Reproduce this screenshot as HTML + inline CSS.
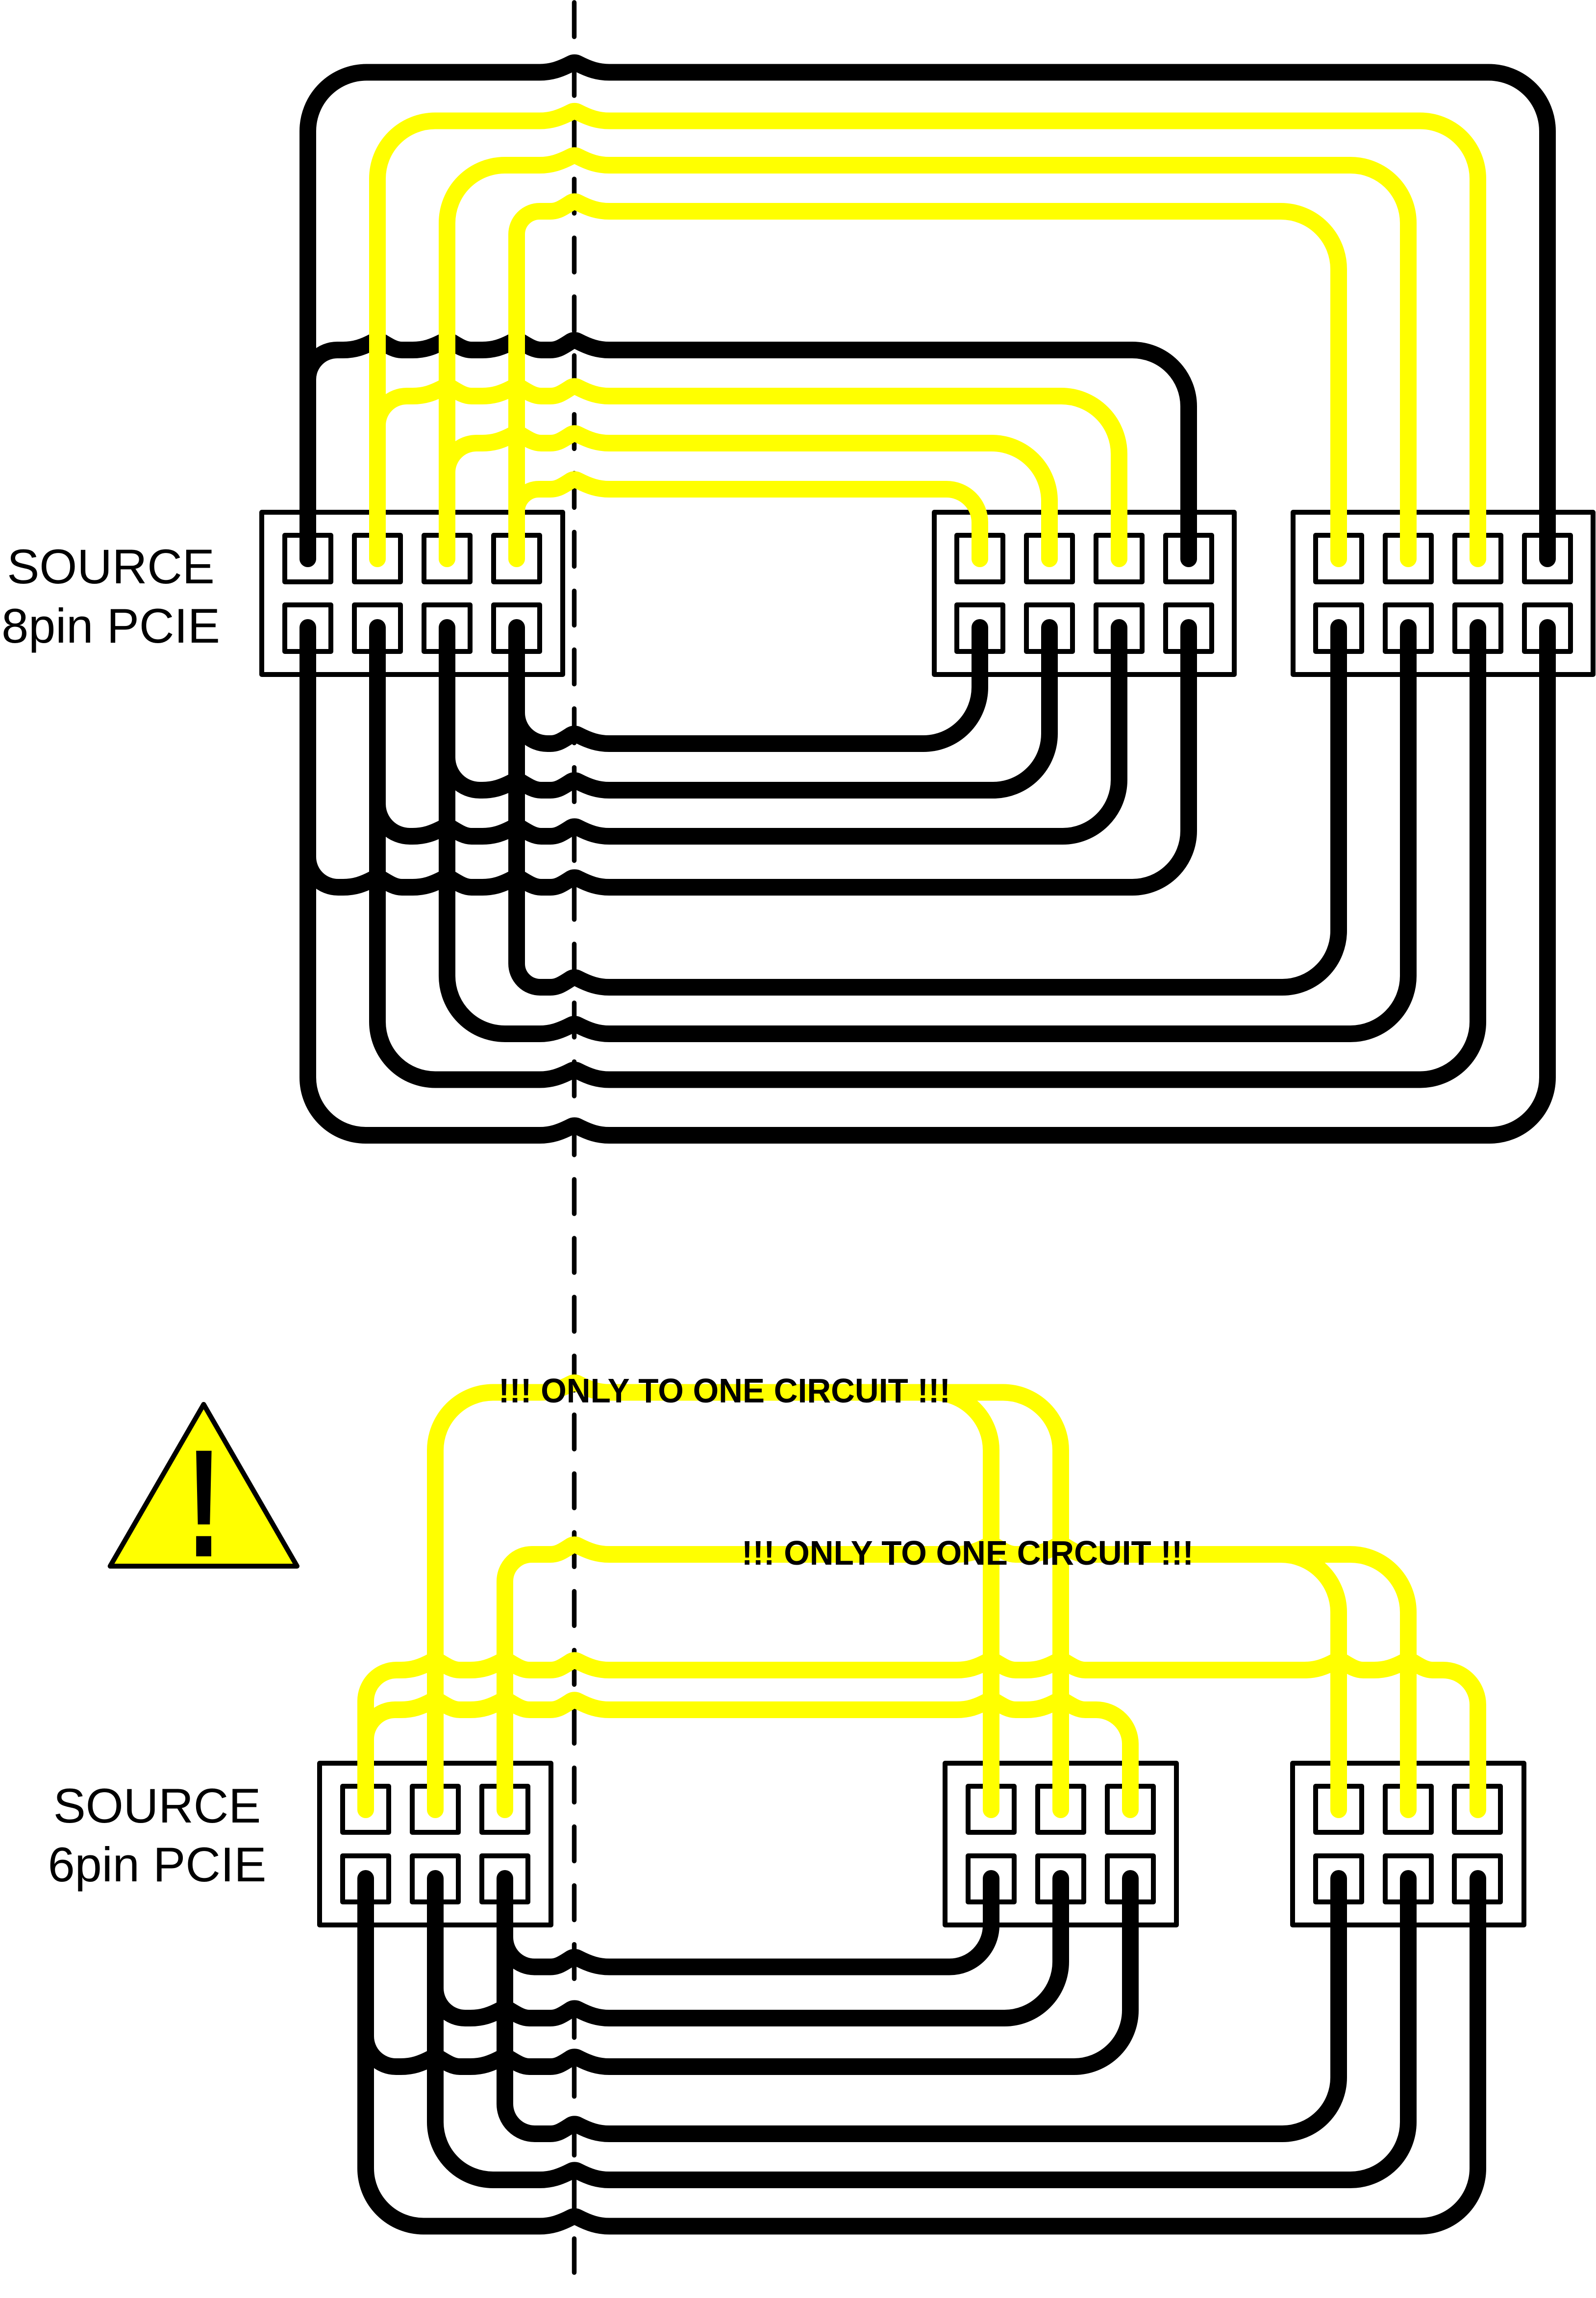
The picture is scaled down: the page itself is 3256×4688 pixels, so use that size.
<!DOCTYPE html>
<html><head><meta charset="utf-8"><style>html,body{margin:0;padding:0;background:#fff}svg{display:block}</style></head>
<body>
<svg xmlns="http://www.w3.org/2000/svg" width="3256" height="4688" viewBox="0 0 3256 4688">
<rect width="3256" height="4688" fill="#fff"/>
<path d="M1171.5 5V4636" fill="none" stroke="#000" stroke-width="9.5" stroke-linecap="round" stroke-dasharray="70 50.05"/>
<g fill="none" stroke="#000" stroke-width="10" stroke-linejoin="round">
<rect x="534" y="1045" width="614" height="331"/>
<rect x="1906" y="1045" width="612" height="331"/>
<rect x="2638" y="1045" width="612" height="331"/>
<rect x="581" y="1092" width="94" height="95"/><rect x="723" y="1092" width="94" height="95"/><rect x="865" y="1092" width="94" height="95"/><rect x="1007" y="1092" width="94" height="95"/>
<rect x="581" y="1234" width="94" height="95"/><rect x="723" y="1234" width="94" height="95"/><rect x="865" y="1234" width="94" height="95"/><rect x="1007" y="1234" width="94" height="95"/>
<rect x="1952" y="1092" width="94" height="95"/><rect x="2094" y="1092" width="94" height="95"/><rect x="2236" y="1092" width="94" height="95"/><rect x="2378" y="1092" width="94" height="95"/>
<rect x="1952" y="1234" width="94" height="95"/><rect x="2094" y="1234" width="94" height="95"/><rect x="2236" y="1234" width="94" height="95"/><rect x="2378" y="1234" width="94" height="95"/>
<rect x="2684" y="1092" width="94" height="95"/><rect x="2826" y="1092" width="94" height="95"/><rect x="2968" y="1092" width="94" height="95"/><rect x="3110" y="1092" width="94" height="95"/>
<rect x="2684" y="1234" width="94" height="95"/><rect x="2826" y="1234" width="94" height="95"/><rect x="2968" y="1234" width="94" height="95"/><rect x="3110" y="1234" width="94" height="95"/>
<rect x="652" y="3597" width="472" height="330"/>
<rect x="1928" y="3597" width="472" height="330"/>
<rect x="2637" y="3597" width="472" height="330"/>
<rect x="699" y="3644" width="94" height="94"/><rect x="841" y="3644" width="94" height="94"/><rect x="983" y="3644" width="94" height="94"/>
<rect x="699" y="3786" width="94" height="94"/><rect x="841" y="3786" width="94" height="94"/><rect x="983" y="3786" width="94" height="94"/>
<rect x="1975" y="3644" width="94" height="94"/><rect x="2117" y="3644" width="94" height="94"/><rect x="2259" y="3644" width="94" height="94"/>
<rect x="1975" y="3786" width="94" height="94"/><rect x="2117" y="3786" width="94" height="94"/><rect x="2259" y="3786" width="94" height="94"/>
<rect x="2684" y="3644" width="94" height="94"/><rect x="2826" y="3644" width="94" height="94"/><rect x="2967" y="3644" width="94" height="94"/>
<rect x="2684" y="3786" width="94" height="94"/><rect x="2826" y="3786" width="94" height="94"/><rect x="2967" y="3786" width="94" height="94"/>
</g>
<g fill="none" stroke="#000" stroke-width="34" stroke-linecap="round" stroke-linejoin="round">
<path d="M628 1140V267.5A120 120 0 0 1 748 147.5H1101c23,0 41,-6 64,-17.8a14,14 0 0 1 14,0c23,11.8 41,17.8 64,17.8H3037A120 120 0 0 1 3157 267.5V1140"/>
<path d="M628 774A60 60 0 0 1 688 714H700c23,0 41,-6 63,-17.8a14,14 0 0 1 14,0c15,9 28,17.8 43,17.8H842c23,0 41,-6 63,-17.8a14,14 0 0 1 14,0c15,9 28,17.8 43,17.8H984c23,0 41,-6 63,-17.8a14,14 0 0 1 14,0c15,9 28,17.8 43,17.8H1123c14,0 24,-6 42,-17.8a14,14 0 0 1 14,0c23,11.8 41,17.8 64,17.8H2310A115 115 0 0 1 2425 829V1140"/>
<path d="M628 1280V2198A118 118 0 0 0 746 2316H1101c23,0 41,-6 64,-17.8a14,14 0 0 1 14,0c23,11.8 41,17.8 64,17.8H3039A118 118 0 0 0 3157 2198V1280"/>
<path d="M770 1280V2084.5A118 118 0 0 0 888 2202.5H1101c23,0 41,-6 64,-17.8a14,14 0 0 1 14,0c23,11.8 41,17.8 64,17.8H2897A118 118 0 0 0 3015 2084.5V1280"/>
<path d="M912 1280V1991A118 118 0 0 0 1030 2109H1101c23,0 41,-6 64,-17.8a14,14 0 0 1 14,0c23,11.8 41,17.8 64,17.8H2755A118 118 0 0 0 2873 1991V1280"/>
<path d="M1054 1280V1966A48 48 0 0 0 1102 2014H1123c14,0 24,-6 42,-17.8a14,14 0 0 1 14,0c23,11.8 41,17.8 64,17.8H2616A115 115 0 0 0 2731 1899V1280"/>
<path d="M1054 1454A63 63 0 0 0 1117 1517H1123c14,0 24,-6 42,-17.8a14,14 0 0 1 14,0c23,11.8 41,17.8 64,17.8H1884A115 115 0 0 0 1999 1402V1280"/>
<path d="M912 1545A67 67 0 0 0 979 1612H984c23,0 41,-6 63,-17.8a14,14 0 0 1 14,0c15,9 28,17.8 43,17.8H1123c14,0 24,-6 42,-17.8a14,14 0 0 1 14,0c23,11.8 41,17.8 64,17.8H2026A115 115 0 0 0 2141 1497V1280"/>
<path d="M770 1640A66 66 0 0 0 836 1706H842c23,0 41,-6 63,-17.8a14,14 0 0 1 14,0c15,9 28,17.8 43,17.8H984c23,0 41,-6 63,-17.8a14,14 0 0 1 14,0c15,9 28,17.8 43,17.8H1123c14,0 24,-6 42,-17.8a14,14 0 0 1 14,0c23,11.8 41,17.8 64,17.8H2168A115 115 0 0 0 2283 1591V1280"/>
<path d="M628 1748A62 62 0 0 0 690 1810H700c23,0 41,-6 63,-17.8a14,14 0 0 1 14,0c15,9 28,17.8 43,17.8H842c23,0 41,-6 63,-17.8a14,14 0 0 1 14,0c15,9 28,17.8 43,17.8H984c23,0 41,-6 63,-17.8a14,14 0 0 1 14,0c15,9 28,17.8 43,17.8H1123c14,0 24,-6 42,-17.8a14,14 0 0 1 14,0c23,11.8 41,17.8 64,17.8H2310A115 115 0 0 0 2425 1695V1280"/>
<path d="M746 3832V4423.5A118 118 0 0 0 864 4541.5H1101c23,0 41,-6 64,-17.8a14,14 0 0 1 14,0c23,11.8 41,17.8 64,17.8H2897A118 118 0 0 0 3015 4423.5V3832"/>
<path d="M888 3832V4329A118 118 0 0 0 1006 4447H1101c23,0 41,-6 64,-17.8a14,14 0 0 1 14,0c23,11.8 41,17.8 64,17.8H2755A118 118 0 0 0 2873 4329V3832"/>
<path d="M1030 3832V4292A61 61 0 0 0 1091 4353H1123c14,0 24,-6 42,-17.8a14,14 0 0 1 14,0c23,11.8 41,17.8 64,17.8H2616A115 115 0 0 0 2731 4238V3832"/>
<path d="M1030 3952A60.5 60.5 0 0 0 1090.5 4012.5H1123c14,0 24,-6 42,-17.8a14,14 0 0 1 14,0c23,11.8 41,17.8 64,17.8H1937A85 85 0 0 0 2022 3927.5V3832"/>
<path d="M888 4056A61 61 0 0 0 949 4117H960c23,0 41,-6 63,-17.8a14,14 0 0 1 14,0c15,9 28,17.8 43,17.8H1123c14,0 24,-6 42,-17.8a14,14 0 0 1 14,0c23,11.8 41,17.8 64,17.8H2049A115 115 0 0 0 2164 4002V3832"/>
<path d="M746 4154A62 62 0 0 0 808 4216H818c23,0 41,-6 63,-17.8a14,14 0 0 1 14,0c15,9 28,17.8 43,17.8H960c23,0 41,-6 63,-17.8a14,14 0 0 1 14,0c15,9 28,17.8 43,17.8H1123c14,0 24,-6 42,-17.8a14,14 0 0 1 14,0c23,11.8 41,17.8 64,17.8H2191A115 115 0 0 0 2306 4101V3832"/>
</g>
<g fill="none" stroke="#ffff00" stroke-width="34" stroke-linecap="round" stroke-linejoin="round">
<path d="M770 1140V364.5A118 118 0 0 1 888 246.5H1101c23,0 41,-6 64,-17.8a14,14 0 0 1 14,0c23,11.8 41,17.8 64,17.8H2897A118 118 0 0 1 3015 364.5V1140"/>
<path d="M912 1140V455A118 118 0 0 1 1030 337H1101c23,0 41,-6 64,-17.8a14,14 0 0 1 14,0c23,11.8 41,17.8 64,17.8H2755A118 118 0 0 1 2873 455V1140"/>
<path d="M1054 1140V478A47 47 0 0 1 1101 431H1123c14,0 24,-6 42,-17.8a14,14 0 0 1 14,0c23,11.8 41,17.8 64,17.8H2613A118 118 0 0 1 2731 549V1140"/>
<path d="M770 868A60 60 0 0 1 830 808H842c23,0 41,-6 63,-17.8a14,14 0 0 1 14,0c15,9 28,17.8 43,17.8H984c23,0 41,-6 63,-17.8a14,14 0 0 1 14,0c15,9 28,17.8 43,17.8H1123c14,0 24,-6 42,-17.8a14,14 0 0 1 14,0c23,11.8 41,17.8 64,17.8H2165A118 118 0 0 1 2283 926V1140"/>
<path d="M912 964A60 60 0 0 1 972 904H984c23,0 41,-6 63,-17.8a14,14 0 0 1 14,0c15,9 28,17.8 43,17.8H1123c14,0 24,-6 42,-17.8a14,14 0 0 1 14,0c23,11.8 41,17.8 64,17.8H2023A118 118 0 0 1 2141 1022V1140"/>
<path d="M1054 1043A45 45 0 0 1 1099 998H1123c14,0 24,-6 42,-17.8a14,14 0 0 1 14,0c23,11.8 41,17.8 64,17.8H1931A68 68 0 0 1 1999 1066V1140"/>
<path d="M746 3692V3470A63 63 0 0 1 809 3407H818c23,0 41,-6 63,-17.8a14,14 0 0 1 14,0c15,9 28,17.8 43,17.8H960c23,0 41,-6 63,-17.8a14,14 0 0 1 14,0c15,9 28,17.8 43,17.8H1123c14,0 24,-6 42,-17.8a14,14 0 0 1 14,0c23,11.8 41,17.8 64,17.8H1952c23,0 41,-6 63,-17.8a14,14 0 0 1 14,0c15,9 28,17.8 43,17.8H2094c23,0 41,-6 63,-17.8a14,14 0 0 1 14,0c15,9 28,17.8 43,17.8H2661c23,0 41,-6 63,-17.8a14,14 0 0 1 14,0c15,9 28,17.8 43,17.8H2803c23,0 41,-6 63,-17.8a14,14 0 0 1 14,0c15,9 28,17.8 43,17.8H2944A71 71 0 0 1 3015 3478V3692"/>
<path d="M746 3548A60 60 0 0 1 806 3488H818c23,0 41,-6 63,-17.8a14,14 0 0 1 14,0c15,9 28,17.8 43,17.8H960c23,0 41,-6 63,-17.8a14,14 0 0 1 14,0c15,9 28,17.8 43,17.8H1123c14,0 24,-6 42,-17.8a14,14 0 0 1 14,0c23,11.8 41,17.8 64,17.8H1952c23,0 41,-6 63,-17.8a14,14 0 0 1 14,0c15,9 28,17.8 43,17.8H2094c23,0 41,-6 63,-17.8a14,14 0 0 1 14,0c15,9 28,17.8 43,17.8H2236A70 70 0 0 1 2306 3558V3692"/>
<path d="M888 3692V2958.5A118 118 0 0 1 1006 2840.5H1101c23,0 41,-6 64,-17.8a14,14 0 0 1 14,0c23,11.8 41,17.8 64,17.8H2046A118 118 0 0 1 2164 2958.5V3692"/>
<path d="M1904 2840.5A118 118 0 0 1 2022 2958.5V3692"/>
<path d="M1030 3692V3226A55 55 0 0 1 1085 3171H1123c14,0 24,-6 42,-17.8a14,14 0 0 1 14,0c23,11.8 41,17.8 64,17.8H1952c23,0 41,-6 63,-17.8a14,14 0 0 1 14,0c15,9 28,17.8 43,17.8H2094c23,0 41,-6 63,-17.8a14,14 0 0 1 14,0c15,9 28,17.8 43,17.8H2755A118 118 0 0 1 2873 3289V3692"/>
<path d="M2613 3171A118 118 0 0 1 2731 3289V3692"/>
</g>
<polygon points="415.5,2865 224.7,3195 606,3195" fill="#ffff00" stroke="#000" stroke-width="10" stroke-linejoin="round"/>
<g font-family="'Liberation Sans', sans-serif" fill="#000">
<text transform="translate(416,3175) scale(0.7,1)" x="0" y="0" font-size="313" font-weight="bold" text-anchor="middle">!</text>
<text x="226" y="1190" font-size="99" text-anchor="middle">SOURCE</text>
<text x="226" y="1311" font-size="99" text-anchor="middle">8pin PCIE</text>
<text x="320.5" y="3718" font-size="99" text-anchor="middle">SOURCE</text>
<text x="320.5" y="3838" font-size="99" text-anchor="middle">6pin PCIE</text>
<text x="1017" y="2861" font-size="70" font-weight="bold" textLength="922" lengthAdjust="spacingAndGlyphs">!!! ONLY TO ONE CIRCUIT !!!</text>
<text x="1513" y="3192" font-size="70" font-weight="bold" textLength="922" lengthAdjust="spacingAndGlyphs">!!! ONLY TO ONE CIRCUIT !!!</text>
</g>
</svg>
</body></html>
